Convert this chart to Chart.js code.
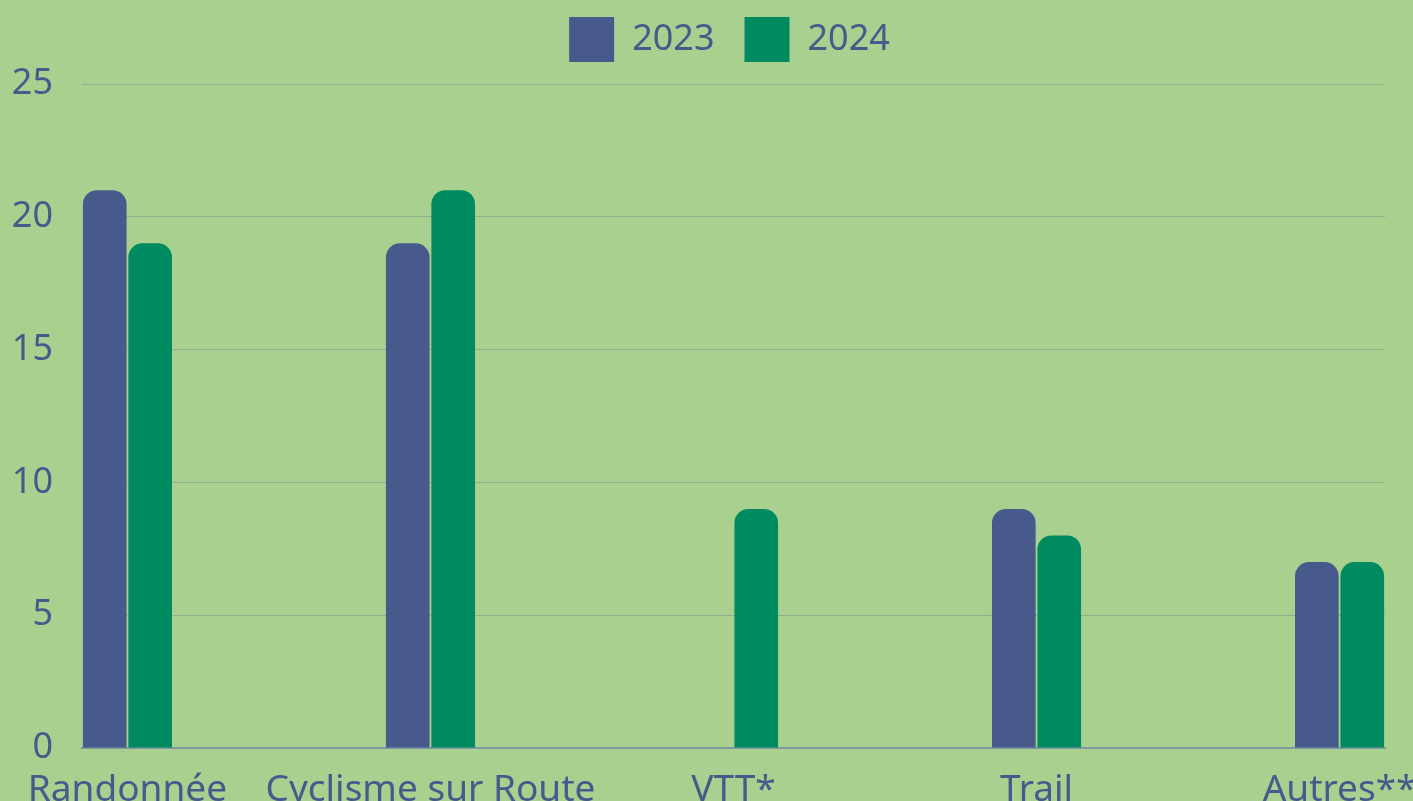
<!DOCTYPE html>
<html lang="fr">
<head>
<meta charset="utf-8">
<title>Pratiques 2023 / 2024</title>
<script src="https://cdn.jsdelivr.net/npm/chart.js@4/dist/chart.umd.min.js"></script>
<style>
    html, body { margin: 0; padding: 0; background: #a8d08e; overflow: hidden; }
    #wrap { width: 1413px; height: 801px; position: relative; }
</style>
</head>
<body>
<div id="wrap"><canvas id="sportsChart"></canvas></div>
<script>
        // Data
        const categories = ['Randonnée', 'Cyclisme sur Route', 'VTT*', 'Trail', 'Autres**'];
        const values2023 = [21, 19, null, 9, 7];
        const values2024 = [19, 21, 9, 8, 7];
        const yTicks = [0, 5, 10, 15, 20, 25];

        const textColor = '#465a8c';

        Chart.defaults.font.family = "'Noto Sans', sans-serif";
        Chart.defaults.color = textColor;

        // Linear index axis so the first and last groups touch the plot edges
        function toPoints(values) {
            return categories.map((c, i) => ({ x: i, y: values[i] }));
        }

        // Legend: fixed height, centred over the plot area instead of the canvas
        const legendPlacement = {
            id: 'legendPlacement',
            beforeInit(chart) {
                const fit = chart.legend.fit;
                chart.legend.fit = function () {
                    fit.bind(chart.legend)();
                    this.height = 97;
                };
            },
            afterLayout(chart) {
                chart.legend.left = chart.chartArea.left - 8;
                chart.legend.right = chart.chartArea.right;
            }
        };

        const ctx = document.getElementById('sportsChart').getContext('2d');
        const sportsChart = new Chart(ctx, {
            type: 'bar',
            data: {
                datasets: [
                    {
                        label: '2023',
                        data: toPoints(values2023),
                        backgroundColor: '#485a8c',
                        borderWidth: 0,
                        borderRadius: 14
                    },
                    {
                        label: '2024',
                        data: toPoints(values2024),
                        backgroundColor: '#008a60',
                        borderWidth: 0,
                        borderRadius: 14
                    }
                ]
            },
            options: {
                responsive: true,
                maintainAspectRatio: false,
                animation: false,
                categoryPercentage: 0.3,
                barPercentage: 0.96,
                layout: {
                    padding: { left: 0, right: 28, top: -13, bottom: 0 }
                },
                plugins: {
                    legend: {
                        position: 'top',
                        labels: {
                            boxWidth: 45,
                            boxHeight: 45,
                            padding: 30,
                            color: textColor,
                            font: { size: 36 }
                        }
                    },
                    tooltip: { enabled: false }
                },
                scales: {
                    x: {
                        type: 'linear',
                        offset: false,
                        min: -0.15,
                        max: 4.15,
                        afterBuildTicks(scale) {
                            scale.ticks = categories.map((c, i) => ({ value: i }));
                        },
                        afterFit(scale) {
                            scale.height = 53;
                            scale.paddingLeft = 0;
                            scale.paddingRight = 0;
                        },
                        grid: { display: false },
                        border: { display: true, color: '#7f97a0', width: 2 },
                        ticks: {
                            includeBounds: false,
                            autoSkip: false,
                            maxRotation: 0,
                            minRotation: 0,
                            padding: 12,
                            color: textColor,
                            font: { size: 37 },
                            callback: (value) => categories[value]
                        }
                    },
                    y: {
                        min: 0,
                        max: 25,
                        afterBuildTicks(scale) {
                            scale.ticks = yTicks.map(v => ({ value: v }));
                        },
                        afterFit(scale) {
                            scale.width = 82;
                        },
                        border: { display: false },
                        grid: {
                            color: '#8fae8c',
                            lineWidth: 1,
                            drawTicks: false
                        },
                        ticks: {
                            padding: 29,
                            color: textColor,
                            font: { size: 36 }
                        }
                    }
                }
            },
            plugins: [legendPlacement]
        });
</script>
</body>
</html>
